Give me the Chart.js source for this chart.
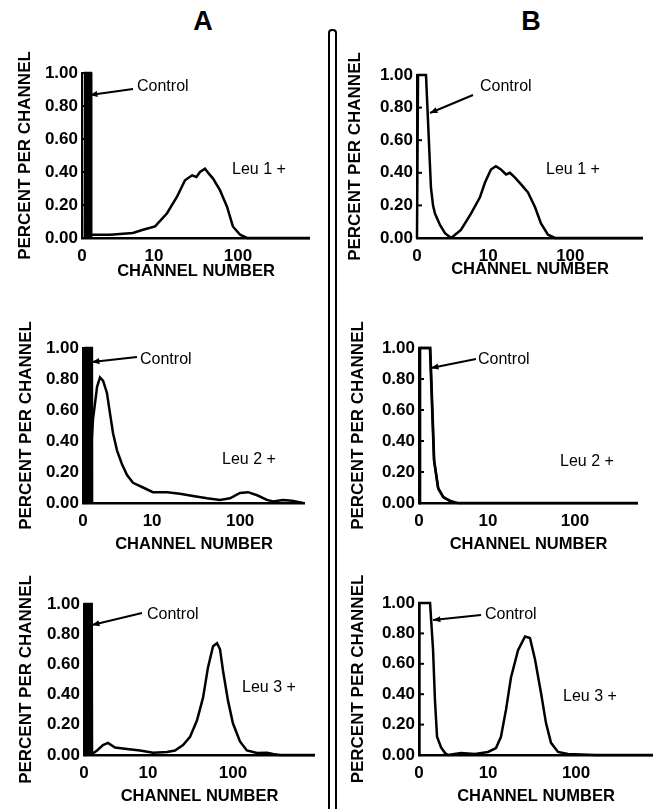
<!DOCTYPE html>
<html>
<head>
<meta charset="utf-8">
<script src="https://cdn.jsdelivr.net/npm/chart.js@4.4.0/dist/chart.umd.min.js"></script>
<style>
  body { margin: 0; background: #fff; width: 656px; height: 809px; position: relative; overflow: hidden;
         font-family: "Liberation Sans", Arial, sans-serif; }
  .head { position: absolute; top: 6px; width: 40px; text-align: center; font-weight: bold; font-size: 27px; }
  #divider { position: absolute; left: 328px; top: 29px; width: 5px; height: 800px;
             border: 2px solid #000; border-bottom: none; border-radius: 4px 4px 0 0; }
  canvas { position: absolute; }
</style>
</head>
<body>
<div class="head" style="left:183px">A</div>
<div class="head" style="left:511px">B</div>
<div id="divider"></div>

<script>
// x axis is a log channel axis, first tick is labelled "0"
const xTickLabels = ['0', '10', '100'];
const yTickValues = [0, 0.2, 0.4, 0.6, 0.8, 1.0];

// column A, Leu 1
const ctrlA1Ch  = [1.50, 1.51, 1.78, 1.79];
const ctrlA1Pct = [0, 1.0, 1.0, 0];
const leuA1Ch  = [1.64, 3.0, 5.6, 7.4, 10.3, 14.3, 18.8, 23.4, 28.4, 32, 35.3, 40.5, 45, 50.5, 61, 74, 87, 106, 128, 200, 720];
const leuA1Pct = [0.02, 0.02, 0.03, 0.05, 0.07, 0.15, 0.25, 0.35, 0.38, 0.37, 0.40, 0.42, 0.39, 0.36, 0.29, 0.19, 0.07, 0.02, 0, 0, 0];

// column B, Leu 1
const ctrlB1Ch  = [1.36, 1.40, 1.75, 2.01, 2.13, 2.25, 2.59, 2.98, 3.53];
const ctrlB1Pct = [0, 1.0, 1.0, 0.31, 0.20, 0.15, 0.08, 0.03, 0];
const leuB1Ch  = [3.53, 4.66, 6.17, 7.94, 9.14, 10.8, 12.4, 14.3, 16.5, 18.4, 21.2, 25.0, 30.5, 37.1, 43.9, 53.4, 65, 100, 766];
const leuB1Pct = [0, 0.05, 0.15, 0.25, 0.34, 0.42, 0.44, 0.42, 0.39, 0.40, 0.37, 0.33, 0.28, 0.19, 0.09, 0.02, 0, 0, 0];

// column A, Leu 2
const ctrlA2Ch  = [1.73, 1.74, 2.07, 2.08];
const ctrlA2Pct = [0, 1.0, 1.0, 0];
const leuA2Ch  = [1.77, 1.97, 2.13, 2.37, 2.56, 2.77, 3.07, 3.32, 3.60, 3.99, 4.55, 5.19, 6.07, 7.89, 10.2, 14.8, 20.7, 29.2, 42, 59, 76.7, 99.7, 123, 156, 202, 236, 307, 389, 518];
const leuA2Pct = [0.01, 0.23, 0.54, 0.75, 0.81, 0.79, 0.71, 0.58, 0.45, 0.34, 0.25, 0.18, 0.13, 0.10, 0.07, 0.07, 0.06, 0.045, 0.03, 0.02, 0.03, 0.065, 0.07, 0.05, 0.02, 0.01, 0.02, 0.015, 0];

// column B, Leu 2
const ctrlB2Ch  = [1.61, 1.65, 2.15, 2.39, 2.66, 3.04, 3.66, 4.28];
const ctrlB2Pct = [0, 1.0, 1.0, 0.28, 0.10, 0.04, 0.013, 0];
const leuB2Ch  = [1.61, 1.65, 2.17, 2.41, 2.69, 3.1, 3.8, 4.5, 530];
const leuB2Pct = [0, 1.0, 1.0, 0.27, 0.09, 0.035, 0.01, 0, 0];

// column A, Leu 3
const ctrlA3Ch  = [1.82, 1.83, 2.18, 2.20];
const ctrlA3Pct = [0, 1.0, 1.0, 0];
const leuA3Ch  = [2.20, 2.52, 2.96, 3.39, 4.10, 5.68, 8.07, 11.5, 16.8, 20.8, 25.9, 31.3, 37.8, 44.5, 50.9, 58.4, 65, 70.5, 76.4, 87.5, 100, 121, 146, 192, 252, 296, 358, 924];
const leuA3Pct = [0.007, 0.03, 0.066, 0.08, 0.05, 0.04, 0.03, 0.015, 0.02, 0.03, 0.066, 0.12, 0.23, 0.38, 0.58, 0.72, 0.74, 0.70, 0.56, 0.36, 0.21, 0.09, 0.03, 0.013, 0.015, 0.007, 0, 0];

// column B, Leu 3
const ctrlB3Ch  = [1.64, 1.66, 2.19, 2.37, 2.49, 2.63, 2.92, 3.24, 3.50];
const ctrlB3Pct = [0, 1.0, 1.0, 0.69, 0.36, 0.12, 0.05, 0.013, 0];
const leuB3Ch  = [3.50, 4.92, 7.1, 9.98, 12.3, 14.0, 16.0, 18.2, 21.9, 26.3, 29.9, 34.1, 39.9, 45.5, 51.9, 62.3, 80.9, 164, 748];
const leuB3Pct = [0, 0.013, 0.007, 0.02, 0.046, 0.12, 0.30, 0.51, 0.69, 0.78, 0.77, 0.63, 0.41, 0.21, 0.08, 0.02, 0.007, 0, 0];

const PAD_TOP = 40;

// layout of the six panels: chart area top/left, canvas box, axis widths, log range, note offsets
const panels = [
  { left: 17, chartTop: 73, width: 293, bottom: 280, yW: 65, xH: 42, xMin: 1.39, xMax: 720, filled: true,
    control: [ctrlA1Ch, ctrlA1Pct], leu: [leuA1Ch, leuA1Pct], leuText: 'Leu 1 +',
    ctrlAt: [55, 14], arrow: [51, 16, 8, 22], leuAt: [150, 97] },
  { left: 347, chartTop: 75, width: 296, bottom: 278, yW: 70, xH: 40, xMin: 1.36, xMax: 766, filled: false,
    control: [ctrlB1Ch, ctrlB1Pct], leu: [leuB1Ch, leuB1Pct], leuText: 'Leu 1 +',
    ctrlAt: [63, 12], arrow: [56, 20, 13, 38], leuAt: [129, 95] },
  { left: 18, chartTop: 348, width: 287, bottom: 553, yW: 65, xH: 50, xMin: 1.64, xMax: 546, filled: true,
    control: [ctrlA2Ch, ctrlA2Pct], leu: [leuA2Ch, leuA2Pct], leuText: 'Leu 2 +',
    ctrlAt: [57, 12], arrow: [54, 9, 9, 14], leuAt: [139, 112] },
  { left: 350, chartTop: 348, width: 288, bottom: 553, yW: 69, xH: 50, xMin: 1.61, xMax: 530, filled: false,
    control: [ctrlB2Ch, ctrlB2Pct], leu: [leuB2Ch, leuB2Pct], leuText: 'Leu 2 +',
    ctrlAt: [59, 12], arrow: [57, 11, 12, 20], leuAt: [141, 114] },
  { left: 18, chartTop: 604, width: 297, bottom: 805, yW: 66, xH: 50, xMin: 1.77, xMax: 924, filled: true,
    control: [ctrlA3Ch, ctrlA3Pct], leu: [leuA3Ch, leuA3Pct], leuText: 'Leu 3 +',
    ctrlAt: [63, 11], arrow: [58, 9, 8, 21], leuAt: [158, 84] },
  { left: 350, chartTop: 603, width: 303, bottom: 805, yW: 69, xH: 50, xMin: 1.64, xMax: 748, filled: false,
    control: [ctrlB3Ch, ctrlB3Pct], leu: [leuB3Ch, leuB3Pct], leuText: 'Leu 3 +',
    ctrlAt: [66, 12], arrow: [62, 12, 14, 17], leuAt: [144, 94] }
];

Chart.defaults.font.family = '"Liberation Sans", Arial, sans-serif';
Chart.defaults.color = '#000';

const pts = (xs, ys) => xs.map((x, i) => ({ x: x, y: ys[i] }));

// inward tick marks on the y axis, plus the "Control" arrow and curve label
function notesPlugin(p) {
  return {
    id: 'notes',
    afterDraw(chart) {
      const c = chart.ctx, a = chart.chartArea, y = chart.scales.y;
      c.save();
      c.strokeStyle = '#000';
      c.fillStyle = '#000';
      c.lineWidth = 2;
      yTickValues.forEach(v => {
        const py = y.getPixelForValue(v);
        c.beginPath(); c.moveTo(a.left, py); c.lineTo(a.left + 5, py); c.stroke();
      });

      c.font = '16px "Liberation Sans", Arial, sans-serif';
      c.textBaseline = 'middle';
      c.fillText('Control', a.left + p.ctrlAt[0], a.top + p.ctrlAt[1]);
      c.fillText(p.leuText, a.left + p.leuAt[0], a.top + p.leuAt[1]);

      const [x1, y1, x2, y2] = p.arrow.map((v, i) => v + (i % 2 ? a.top : a.left));
      const ang = Math.atan2(y2 - y1, x2 - x1);
      c.beginPath(); c.moveTo(x1, y1); c.lineTo(x2, y2); c.stroke();
      c.beginPath();
      c.moveTo(x2, y2);
      c.lineTo(x2 - 8 * Math.cos(ang - 0.4), y2 - 8 * Math.sin(ang - 0.4));
      c.lineTo(x2 - 8 * Math.cos(ang + 0.4), y2 - 8 * Math.sin(ang + 0.4));
      c.closePath(); c.fill();
      c.restore();
    }
  };
}

panels.forEach(p => {
  const top = p.chartTop - PAD_TOP;
  const cv = document.createElement('canvas');
  cv.width = p.width; cv.height = p.bottom - top;
  cv.style.left = p.left + 'px'; cv.style.top = top + 'px';
  document.body.appendChild(cv);

  new Chart(cv.getContext('2d'), {
    type: 'line',
    data: {
      datasets: [
        { label: 'Control', data: pts(p.control[0], p.control[1]), borderColor: '#000', backgroundColor: '#000',
          borderWidth: 2.5, pointRadius: 0, tension: 0, fill: p.filled ? 'origin' : false, clip: false },
        { label: p.leuText, data: pts(p.leu[0], p.leu[1]), borderColor: '#000',
          borderWidth: 2.5, pointRadius: 0, tension: 0, fill: false, clip: false }
      ]
    },
    options: {
      responsive: false,
      animation: false,
      events: [],
      layout: { padding: { top: PAD_TOP, left: 0, right: 0, bottom: 0 } },
      plugins: { legend: { display: false }, tooltip: { enabled: false } },
      scales: {
        x: {
          type: 'logarithmic', min: p.xMin, max: p.xMax,
          afterBuildTicks: s => { s.ticks = [p.xMin, 10, 100].map(v => ({ value: v })); },
          afterFit: s => { s.height = p.xH; },
          grid: { display: false, drawTicks: false },
          border: { display: true, color: '#000', width: 2.5 },
          ticks: { padding: 8, autoSkip: false, maxRotation: 0, font: { size: 17, weight: 'bold' },
                   callback: (v, i) => xTickLabels[i] },
          title: { display: true, text: 'CHANNEL NUMBER', padding: 0, font: { size: 16.5, weight: 'bold', lineHeight: 1 } }
        },
        y: {
          min: 0, max: 1,
          afterBuildTicks: s => { s.ticks = yTickValues.map(v => ({ value: v })); },
          afterFit: s => { s.width = p.yW; },
          grid: { display: false, drawTicks: false },
          border: { display: true, color: '#000', width: 2 },
          ticks: { padding: 4, font: { size: 17, weight: 'bold' }, callback: v => v.toFixed(2) },
          title: { display: true, text: 'PERCENT PER CHANNEL', padding: 0, font: { size: 17, weight: 'bold', lineHeight: 1 } }
        }
      }
    },
    plugins: [notesPlugin(p)]
  });
});
</script>
</body>
</html>
